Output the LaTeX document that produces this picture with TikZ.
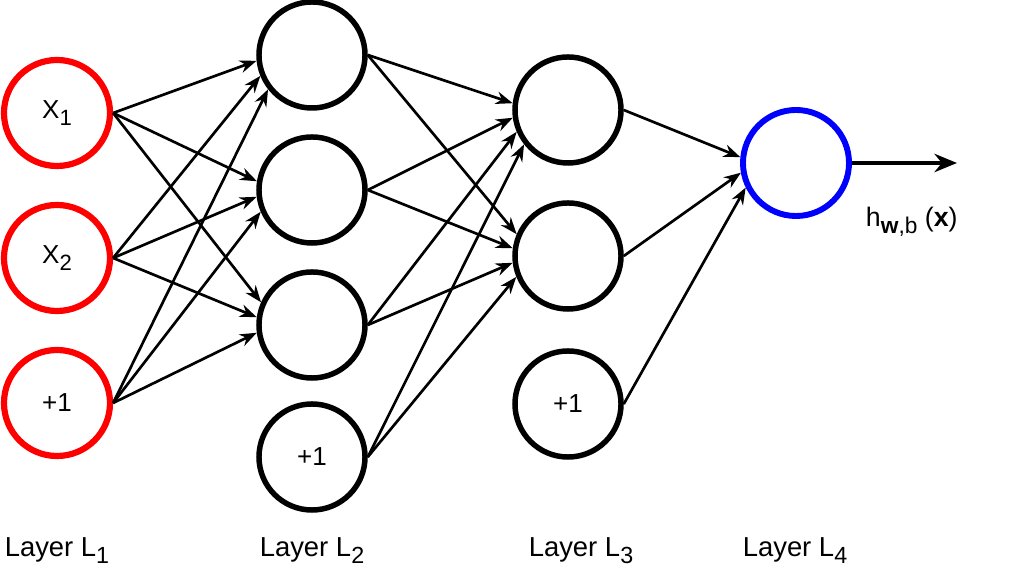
\documentclass[tikz,border=0pt]{standalone}
\usepackage{fontspec}
\setmainfont{Liberation Sans}
\usetikzlibrary{arrows.meta}
\newcommand{\lsub}[1]{\raisebox{-0.45ex}{\scalebox{0.85}{#1}}}

\begin{document}
\begin{tikzpicture}[x=0.025cm,y=0.025cm,>={Stealth[length=12pt,width=9pt]}]
\tikzset{neuron/.style={circle,draw,line width=3.9pt,minimum size=2.65cm,inner sep=0pt,font=\fontsize{18.5}{22}\selectfont},
  inunit/.style={neuron,draw=red,line width=4.4pt},
  outunit/.style={neuron,draw=blue,line width=4.2pt},
  link/.style={->,line width=1.9pt},
  layerlabel/.style={anchor=base,font=\fontsize{19.5}{22}\selectfont}}
\useasboundingbox (0,0) rectangle (1024,570);
% layer 1
\node[inunit] (x1) at (57,457) {X\lsub{1}};
\node[inunit] (x2) at (57,312) {X\lsub{2}};
\node[inunit] (p1) at (57,167) {+1};
% layer 2
\node[neuron] (h1) at (312,515) {};
\node[neuron] (h2) at (312,380) {};
\node[neuron] (h3) at (312,245) {};
\node[neuron] (p2) at (312,113) {+1};
% layer 3
\node[neuron] (g1) at (568,460) {};
\node[neuron] (g2) at (568,314) {};
\node[neuron] (p3) at (568,166) {+1};
% layer 4
\node[outunit] (o1) at (796,407) {};
\coordinate (out) at (957,407);

\foreach \s/\sy in {x1/457,x2/312,p1/167}
  \foreach \t/\ty in {h1/515,h2/380,h3/245}{
    \pgfmathtruncatemacro\ang{180+0.11*(\ty-\sy)}
    \draw[link] (\s.east) -- (\t.\ang);
  }
\foreach \s/\sy in {h1/515,h2/380,h3/245,p2/113}
  \foreach \t/\ty in {g1/460,g2/314}{
    \pgfmathtruncatemacro\ang{180+0.11*(\ty-\sy)}
    \draw[link] (\s.east) -- (\t.\ang);
  }
\foreach \s/\sy in {g1/460,g2/314,p3/166}{
  \pgfmathtruncatemacro\ang{180+0.11*(407-\sy)}
  \draw[link] (\s.east) -- (o1.\ang);
}
\draw[-{Stealth[length=16pt,width=13pt]},line width=2.8pt] (o1.east) -- (out);
\node[anchor=base west,font=\fontsize{19}{22}\selectfont] (hout) at (861,343) {h\lsub{\textbf{w},b} (\textbf{x})};

% layer names
\node[layerlabel] (lab1) at (57,13) {Layer L\lsub{1}};
\node[layerlabel] (lab2) at (312,13) {Layer L\lsub{2}};
\node[layerlabel] (lab3) at (581,13) {Layer L\lsub{3}};
\node[layerlabel] (lab4) at (795,13) {Layer L\lsub{4}};
\end{tikzpicture}
\end{document}
